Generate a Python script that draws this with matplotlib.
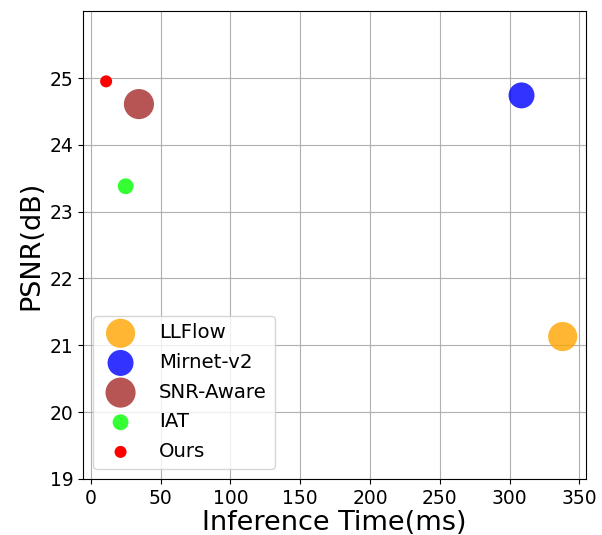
import matplotlib
matplotlib.use("Agg")
import matplotlib.pyplot as plt

# 数据
methods = ["LLFlow", "Mirnet-v2", "SNR-Aware", "IAT", "Ours"]
times_ms = [338, 308.5, 34.5, 25, 11]
psnr = [21.13, 24.74, 24.61, 23.38, 24.95]
sizes = [440, 350, 470, 130, 75]
colors = ["orange", "blue", "brown", "lime", "red"]
alphas = [0.8, 0.8, 0.8, 0.8, 1.0]

fig, ax = plt.subplots(figsize=(6.02, 5.35), dpi=100)
fig.subplots_adjust(left=0.138, right=0.973, bottom=0.105, top=0.979)

for m, x, y, s, c, a in zip(methods, times_ms, psnr, sizes, colors, alphas):
    ax.scatter(x, y, s=s, color=c, alpha=a, label=m, edgecolors="none", zorder=3)

ax.set_xlim(-5.5, 354.5)
ax.set_ylim(19, 26)
ax.set_yticks(range(19, 26))
ax.set_xticks(range(0, 351, 50))
ax.tick_params(labelsize=13.5)
ax.grid(True, zorder=0)
ax.set_axisbelow(True)

ax.set_xlabel("Inference Time(ms)", fontsize=19.5, labelpad=2)
ax.set_ylabel("PSNR(dB)", fontsize=19.5)
ax.legend(loc="lower left", fontsize=14.2, labelspacing=0.54,
          handletextpad=0.95, borderaxespad=0.5)

plt.savefig("out.png", dpi=100)
